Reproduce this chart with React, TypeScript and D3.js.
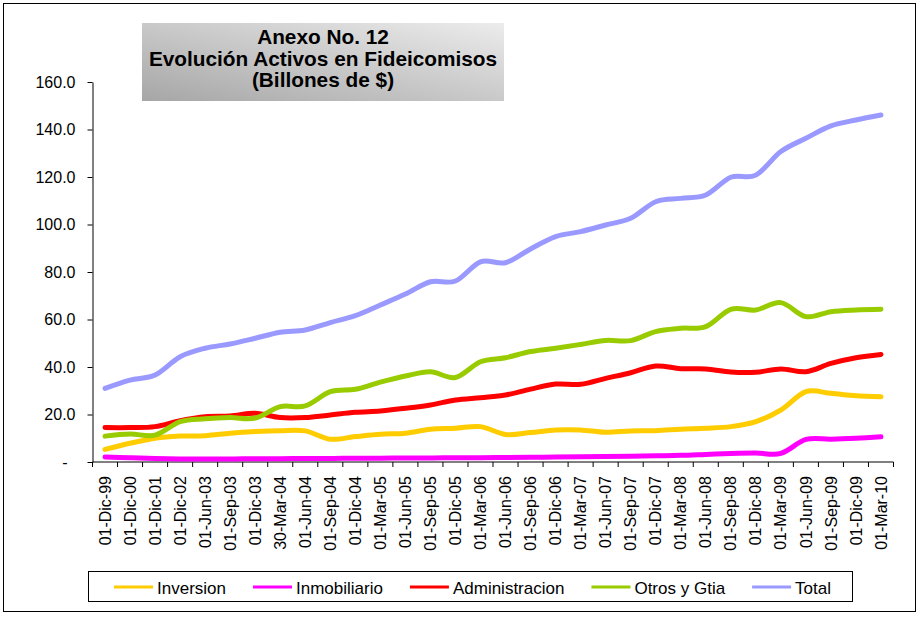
import React, { useRef, useEffect } from "react";
import * as d3 from "d3";

const categories = [
  "01-Dic-99", "01-Dic-00", "01-Dic-01", "01-Dic-02", "01-Jun-03", "01-Sep-03",
  "01-Dic-03", "30-Mar-04", "01-Jun-04", "01-Sep-04", "01-Dic-04", "01-Mar-05",
  "01-Jun-05", "01-Sep-05", "01-Dic-05", "01-Mar-06", "01-Jun-06", "01-Sep-06",
  "01-Dic-06", "01-Mar-07", "01-Jun-07", "01-Sep-07", "01-Dic-07", "01-Mar-08",
  "01-Jun-08", "01-Sep-08", "01-Dic-08", "01-Mar-09", "01-Jun-09", "01-Sep-09",
  "01-Dic-09", "01-Mar-10",
];

const inversion = [
  5.3, 7.9, 10.0, 10.9, 11.1, 12.1, 12.8, 13.2, 13.1, 9.6, 10.7, 11.7, 12.1, 13.8,
  14.2, 14.9, 11.6, 12.4, 13.5, 13.5, 12.5, 13.1, 13.2, 13.8, 14.2, 14.9, 17.0,
  21.9, 29.6, 28.9, 27.9, 27.5,
];
const inmobiliario = [
  2.1, 1.8, 1.5, 1.3, 1.3, 1.3, 1.4, 1.4, 1.5, 1.5, 1.6, 1.6, 1.7, 1.7, 1.8, 1.8,
  1.9, 2.0, 2.1, 2.2, 2.3, 2.4, 2.6, 2.8, 3.2, 3.6, 3.8, 3.6, 9.5, 9.6, 10.0, 10.6,
];
const administracion = [
  14.5, 14.5, 14.9, 17.4, 19.1, 19.4, 20.5, 18.7, 18.7, 19.8, 20.9, 21.5, 22.6,
  24.0, 26.1, 27.1, 28.2, 30.7, 32.8, 32.7, 35.2, 37.6, 40.4, 39.3, 39.2, 37.9,
  37.8, 39.2, 38.0, 41.5, 43.9, 45.3,
];
const otros = [
  10.9, 11.8, 11.3, 17.0, 18.2, 18.7, 18.5, 23.3, 23.6, 29.6, 30.6, 33.6, 36.2,
  38.0, 35.6, 42.2, 43.9, 46.5, 47.9, 49.5, 51.2, 51.1, 54.9, 56.3, 57.0, 64.3,
  64.0, 67.1, 61.2, 63.3, 64.0, 64.3,
];
const total = [
  31.0, 34.5, 36.6, 44.3, 47.9, 49.7, 52.1, 54.6, 55.6, 58.7, 61.6, 66.1, 70.7,
  75.9, 76.2, 84.3, 83.9, 89.7, 94.9, 97.0, 99.8, 102.6, 109.6, 111.0, 112.4,
  119.9, 120.8, 130.7, 136.3, 141.5, 144.0, 146.1,
];

const seriesNames = ["Inversion", "Inmobiliario", "Administracion", "Otros y Gtia", "Total"];
const seriesValues = [inversion, inmobiliario, administracion, otros, total];
const seriesColors = ["#FFCC00", "#FF00FF", "#FF0000", "#99CC00", "#9999FF"];

const yTicks = [0, 20, 40, 60, 80, 100, 120, 140, 160];
const titleLines = ["Anexo No. 12", "Evolución Activos en Fideicomisos", "(Billones de $)"];

const FONT = "'Liberation Sans', Arial, sans-serif";

const App = () => {
  const chartRef = useRef<SVGSVGElement | null>(null);

  useEffect(() => {
    if (!chartRef.current) return;
    const svg = d3.select(chartRef.current);
    svg.selectAll("*").remove();

    const W = 919;
    const H = 620;
    const plot = { left: 92.5, right: 893.5, top: 82, bottom: 462 };

    // outer frame
    svg
      .append("rect")
      .attr("x", 3.5)
      .attr("y", 3.5)
      .attr("width", W - 7)
      .attr("height", H - 12)
      .attr("fill", "#fff")
      .attr("stroke", "#000")
      .attr("stroke-width", 1);

    const x = d3.scaleBand().domain(categories).range([plot.left, plot.right]).padding(0);
    const y = d3.scaleLinear().domain([0, 160]).range([plot.bottom, plot.top]);

    // Y axis
    const yAxis = svg
      .append("g")
      .attr("transform", `translate(${plot.left},0)`)
      .call(
        d3
          .axisLeft(y)
          .tickValues(yTicks)
          .tickSize(5)
          .tickSizeOuter(0)
          .tickPadding(12)
          .tickFormat((d) => (+d === 0 ? "-" : d3.format(".1f")(+d)))
      );
    yAxis.select(".domain").attr("stroke", "#000");
    yAxis.selectAll(".tick line").attr("stroke", "#000");
    yAxis
      .selectAll("text")
      .style("font-size", "16px")
      .style("font-family", FONT)
      .style("fill", "#000");
    yAxis
      .selectAll<SVGTextElement, number>("text")
      .filter((d) => d === 0)
      .attr("dx", -8);

    // X axis
    const xAxis = svg
      .append("g")
      .attr("transform", `translate(0,${plot.bottom})`)
      .call(d3.axisBottom(x).tickSize(0).tickSizeOuter(0));
    xAxis.select(".domain").remove();
    xAxis
      .selectAll("text")
      .attr("transform", "rotate(-90)")
      .attr("x", -14)
      .attr("y", 0)
      .attr("dy", "0.35em")
      .style("text-anchor", "end")
      .style("font-size", "16px")
      .style("font-family", FONT)
      .style("fill", "#000");

    const edges = [...categories.map((c) => x(c) as number), plot.right];
    svg
      .append("g")
      .selectAll("line")
      .data(edges)
      .enter()
      .append("line")
      .attr("x1", (d) => d)
      .attr("x2", (d) => d)
      .attr("y1", plot.bottom)
      .attr("y2", plot.bottom + 5)
      .attr("stroke", "#000");
    svg
      .append("line")
      .attr("x1", plot.left)
      .attr("x2", plot.right)
      .attr("y1", plot.bottom)
      .attr("y2", plot.bottom)
      .attr("stroke", "#000");

    // lines
    const line = d3
      .line<number>()
      .x((_, i) => (x(categories[i]) as number) + x.bandwidth() / 2)
      .y((d) => y(d))
      .curve(d3.curveCatmullRom.alpha(0));

    seriesValues.forEach((vals, k) => {
      svg
        .append("path")
        .datum(vals)
        .attr("fill", "none")
        .attr("stroke", seriesColors[k])
        .attr("stroke-width", 5)
        .attr("stroke-linecap", "round")
        .attr("stroke-linejoin", "round")
        .attr("d", line);
    });

    // title box
    const defs = svg.append("defs");
    const grad = defs
      .append("linearGradient")
      .attr("id", "titleGrad")
      .attr("x1", 0)
      .attr("y1", 1)
      .attr("x2", 1)
      .attr("y2", 0);
    grad.append("stop").attr("offset", "0%").attr("stop-color", "#a6a6a6");
    grad.append("stop").attr("offset", "100%").attr("stop-color", "#ececec");

    svg
      .append("rect")
      .attr("x", 142)
      .attr("y", 23)
      .attr("width", 362)
      .attr("height", 78)
      .attr("fill", "url(#titleGrad)");

    svg
      .append("g")
      .selectAll("text")
      .data(titleLines)
      .enter()
      .append("text")
      .attr("x", 323)
      .attr("y", (_, i) => 44 + i * 21.5)
      .attr("text-anchor", "middle")
      .style("font-size", "20.8px")
      .style("font-weight", "bold")
      .style("font-family", FONT)
      .style("fill", "#000")
      .text((d) => d);

    // legend
    svg
      .append("rect")
      .attr("x", 88.5)
      .attr("y", 571.5)
      .attr("width", 764)
      .attr("height", 30)
      .attr("fill", "#fff")
      .attr("stroke", "#000");

    const legend = svg.append("g");
    let lx = 114;
    const ly = 588;
    seriesNames.forEach((name, k) => {
      legend
        .append("line")
        .attr("x1", lx)
        .attr("x2", lx + 39)
        .attr("y1", ly - 1)
        .attr("y2", ly - 1)
        .attr("stroke", seriesColors[k])
        .attr("stroke-width", 3);
      const t = legend
        .append("text")
        .attr("x", lx + 43)
        .attr("y", ly + 6)
        .style("font-size", "17px")
        .style("font-family", FONT)
        .style("fill", "#000")
        .text(name);
      const tw = (t.node() as SVGTextElement).getComputedTextLength();
      lx = lx + 43 + tw + 27;
    });
  }, []);

  return (
    <svg
      ref={chartRef}
      width={919}
      height={620}
      style={{ position: "absolute", left: 0, top: 0, background: "#fff" }}
    />
  );
};

export default App;
